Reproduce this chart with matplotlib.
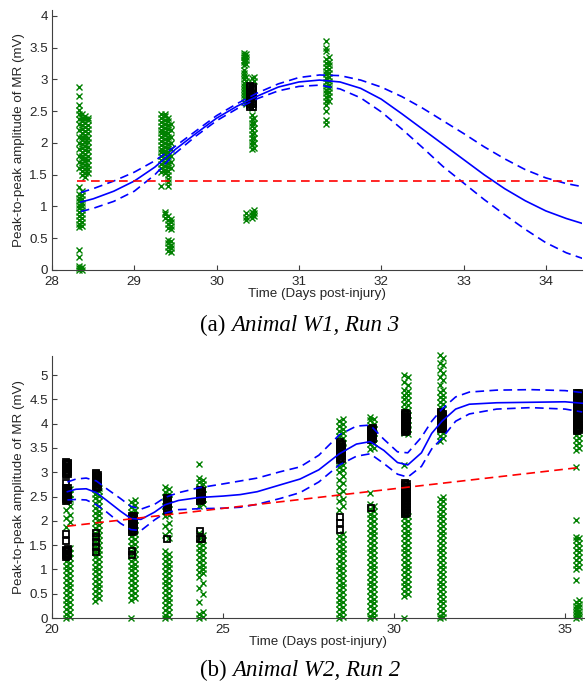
import matplotlib
matplotlib.use("Agg")
import matplotlib.pyplot as plt

plt.rcParams['font.family'] = ['Liberation Sans', 'DejaVu Sans']

# ---- panel (a): Animal W1, Run 3 ----
w1_fit_x = [28.35, 28.5, 28.75, 29.0, 29.25, 29.5, 29.75, 30.0, 30.25, 30.5, 30.75, 31.0, 31.25,
            31.5, 31.75, 32.0, 32.25, 32.5, 32.75, 33.0, 33.25, 33.5, 33.75, 34.0, 34.25, 34.45]
w1_fit = [1.07, 1.12, 1.24, 1.40, 1.62, 1.90, 2.15, 2.39, 2.58, 2.74, 2.88, 2.96, 2.99,
          2.96, 2.86, 2.69, 2.46, 2.22, 1.98, 1.74, 1.50, 1.28, 1.09, 0.93, 0.81, 0.73]
w1_upper = [1.22, 1.28, 1.40, 1.54, 1.72, 1.95, 2.19, 2.43, 2.62, 2.79, 2.93, 3.03, 3.07,
            3.06, 2.99, 2.88, 2.73, 2.55, 2.35, 2.15, 1.94, 1.75, 1.58, 1.45, 1.36, 1.31]
w1_lower = [0.92, 0.97, 1.08, 1.24, 1.50, 1.84, 2.11, 2.35, 2.54, 2.70, 2.82, 2.89, 2.91,
            2.85, 2.71, 2.49, 2.22, 1.93, 1.63, 1.37, 1.11, 0.87, 0.64, 0.43, 0.27, 0.18]
w1_thresh_x = [28.3, 34.33]
w1_thresh = [1.4, 1.4]

w1_green = [
    (28.33, [0.0, 0.03, 0.06, 0.2, 0.31, 0.68, 0.73, 0.79, 0.85, 0.91, 0.97, 1.03, 1.09, 1.14, 1.2, 1.31,
             1.6, 1.7, 1.8, 1.9, 2.0, 2.1, 2.2, 2.3, 2.38, 2.45, 2.52, 2.6, 2.74, 2.88]),
    (28.36, [0.0, 0.04, 0.7, 0.76, 0.82, 0.88, 0.94, 1.0, 1.06, 1.12, 1.18, 1.24, 1.5, 1.56, 1.62, 1.68,
             1.74, 1.8, 1.86, 1.92, 1.98, 2.04, 2.1, 2.16, 2.22, 2.28, 2.34, 2.4, 2.46]),
    (28.40, [1.47, 1.53, 1.59, 1.65, 1.71, 1.77, 1.83, 1.89, 1.95, 2.01, 2.07, 2.13, 2.19, 2.25, 2.31,
             2.37, 2.42]),
    (28.44, [1.52, 1.59, 1.66, 1.73, 1.8, 1.87, 1.94, 2.01, 2.08, 2.15, 2.22, 2.29, 2.36, 2.4]),
    (29.33, [1.32, 1.55, 1.61, 1.67, 1.73, 1.79, 1.85, 1.91, 1.97, 2.03, 2.09, 2.15, 2.21, 2.27, 2.33,
             2.39, 2.45]),
    (29.37, [0.82, 0.88, 0.92, 1.52, 1.58, 1.64, 1.7, 1.76, 1.82, 1.88, 1.94, 2.0, 2.06, 2.12, 2.18, 2.24,
             2.3, 2.36, 2.42, 2.46]),
    (29.41, [0.3, 0.36, 0.42, 0.47, 0.66, 0.72, 0.78, 0.85, 1.32, 1.38, 1.44, 1.5, 1.56, 1.62, 1.68, 1.74,
             1.8, 1.86, 1.92, 1.98, 2.04, 2.1, 2.16, 2.22, 2.28, 2.34, 2.4]),
    (29.45, [0.28, 0.34, 0.4, 0.45, 0.65, 0.7, 0.75, 0.8, 1.6, 1.7, 1.8, 1.9, 2.0, 2.1, 2.2, 2.3]),
    (30.33, [2.65, 2.7, 2.75, 2.8, 2.85, 2.9, 2.95, 3.0, 3.05, 3.1, 3.15, 3.23, 3.27, 3.31, 3.35, 3.39,
             3.42]),
    (30.36, [0.78, 0.84, 0.9, 2.62, 2.68, 2.74, 2.8, 2.86, 2.92, 2.98, 3.04, 3.24, 3.3, 3.36, 3.4]),
    (30.43, [0.82, 0.87, 0.92, 1.9, 1.96, 2.02, 2.08, 2.14, 2.2, 2.26, 2.32, 2.38, 2.44, 2.55, 2.62, 2.7,
             2.78, 2.86, 2.94, 3.02]),
    (30.46, [0.85, 0.9, 0.95, 1.92, 2.0, 2.08, 2.16, 2.24, 2.32, 2.4, 2.98, 3.04]),
    (31.33, [2.3, 2.36, 2.5, 2.6, 2.66, 2.72, 2.78, 2.84, 2.9, 2.96, 3.02, 3.08, 3.14, 3.2, 3.26, 3.32,
             3.45, 3.5, 3.6]),
    (31.36, [2.66, 2.74, 2.8, 2.86, 2.92, 2.98, 3.04, 3.1, 3.16, 3.22, 3.28, 3.36]),
]
w1_black = [
    (30.40, [2.56, 2.59, 2.62, 2.65, 2.68, 2.71, 2.74, 2.77, 2.8, 2.83, 2.86, 2.89]),
    (30.44, [2.57, 2.61, 2.65, 2.69, 2.73, 2.77, 2.81, 2.85, 2.88]),
]

# ---- panel (b): Animal W2, Run 2 ----
w2_fit_x = [20.45, 20.7, 21.0, 21.3, 21.6, 22.0, 22.3, 22.6, 23.0, 23.3, 23.7, 24.3, 25.0, 25.5, 26.0,
            26.67, 27.25, 27.8, 28.4, 28.9, 29.3, 29.7, 30.1, 30.4, 30.8, 31.1, 31.4, 31.8, 32.2, 33.0,
            34.0, 35.0, 35.5]
w2_fit = [2.60, 2.65, 2.66, 2.58, 2.42, 2.20, 2.05, 2.03, 2.18, 2.33, 2.42, 2.48, 2.51, 2.54, 2.60,
          2.74, 2.86, 3.05, 3.38, 3.58, 3.63, 3.45, 3.20, 3.15, 3.40, 3.80, 4.05, 4.30, 4.40, 4.43,
          4.44, 4.45, 4.42]
w2_upper = [2.80, 2.86, 2.88, 2.82, 2.66, 2.46, 2.30, 2.24, 2.34, 2.48, 2.58, 2.68, 2.76, 2.82, 2.88,
            3.01, 3.11, 3.35, 3.77, 3.95, 3.97, 3.68, 3.42, 3.40, 3.72, 4.05, 4.30, 4.55, 4.65, 4.69,
            4.70, 4.68, 4.64]
w2_lower = [2.43, 2.44, 2.43, 2.33, 2.18, 1.95, 1.82, 1.80, 2.02, 2.16, 2.23, 2.25, 2.26, 2.28, 2.34,
            2.46, 2.58, 2.80, 3.15, 3.33, 3.38, 3.18, 2.96, 2.90, 3.12, 3.48, 3.70, 4.05, 4.20, 4.30,
            4.33, 4.30, 4.24]
w2_thresh_x = [20.45, 35.45]
w2_thresh = [1.89, 3.10]

w2_green = [
    (20.41, [0.0, 0.08, 0.18, 0.28, 0.38, 0.48, 0.58, 0.68, 0.78, 0.88, 0.98, 1.08, 1.18, 1.28, 1.38,
             1.88, 2.05, 2.22, 2.4, 2.5, 2.6, 2.7]),
    (20.53, [0.03, 0.13, 0.23, 0.33, 0.43, 0.53, 0.63, 0.73, 0.83, 0.93, 1.03, 1.13, 1.23, 1.33, 1.45,
             1.97, 2.13, 2.3, 2.45, 2.55, 2.65]),
    (21.27, [0.36, 0.46, 0.56, 0.66, 0.76, 0.86, 0.96, 1.06, 1.16, 1.26, 1.36, 1.46, 1.56, 1.66, 1.76,
             1.86, 1.96, 2.06, 2.16, 2.26, 2.36, 2.46, 2.56, 2.66]),
    (21.37, [0.41, 0.51, 0.61, 0.71, 0.81, 0.91, 1.01, 1.11, 1.21, 1.31, 1.41, 1.51, 1.61, 1.71, 1.81,
             1.91, 2.01, 2.11, 2.21, 2.31, 2.41, 2.51, 2.61, 2.68]),
    (22.31, [0.0, 0.38, 0.48, 0.58, 0.68, 0.78, 0.88, 0.98, 1.08, 1.18, 1.28, 1.38, 1.48, 1.58, 1.68,
             1.78, 1.88, 1.98, 2.08, 2.18, 2.28, 2.38]),
    (22.42, [0.42, 0.52, 0.62, 0.72, 0.82, 0.92, 1.02, 1.12, 1.22, 1.32, 1.42, 1.52, 1.62, 1.72, 1.82,
             1.92, 2.02, 2.12, 2.22, 2.32, 2.42]),
    (23.31, [0.0, 0.07, 0.17, 0.27, 0.37, 0.47, 0.57, 0.67, 0.77, 0.87, 0.97, 1.07, 1.17, 1.27, 1.37,
             1.7, 1.9, 2.1, 2.2, 2.3, 2.4, 2.5, 2.6, 2.7]),
    (23.42, [0.02, 0.12, 0.22, 0.32, 0.42, 0.52, 0.62, 0.72, 0.82, 0.92, 1.02, 1.12, 1.22, 1.32, 1.65,
             1.8, 1.95, 2.12, 2.25, 2.35, 2.45, 2.55, 2.65]),
    (24.30, [0.0, 0.08, 0.32, 0.62, 0.85, 0.95, 1.05, 1.15, 1.25, 1.35, 1.45, 1.55, 1.65, 1.75, 2.3, 2.4,
             2.5, 2.6, 2.7, 2.8, 2.88, 3.18]),
    (24.41, [0.03, 0.12, 0.5, 0.72, 0.92, 1.0, 1.1, 1.2, 1.3, 1.4, 1.5, 1.6, 1.7, 2.35, 2.45, 2.55, 2.65,
             2.75, 2.85]),
    (28.38, [0.0, 0.08, 0.18, 0.28, 0.38, 0.48, 0.58, 0.68, 0.78, 0.88, 0.98, 1.08, 1.18, 1.28, 1.38,
             1.48, 1.58, 1.68, 2.22, 2.4, 2.55, 2.7, 2.85, 3.0, 3.1, 3.19, 3.55, 3.65, 3.75, 3.85, 3.95,
             4.05]),
    (28.50, [0.03, 0.13, 0.23, 0.33, 0.43, 0.53, 0.63, 0.73, 0.83, 0.93, 1.03, 1.13, 1.23, 1.33, 1.43,
             1.53, 1.63, 1.73, 2.3, 2.45, 2.62, 2.78, 2.92, 3.05, 3.15, 3.52, 3.6, 3.7, 3.8, 3.9, 4.0,
             4.09]),
    (29.30, [0.0, 0.05, 0.15, 0.25, 0.35, 0.45, 0.55, 0.65, 0.75, 0.85, 0.95, 1.05, 1.15, 1.25, 1.35,
             1.45, 1.55, 1.65, 1.75, 1.85, 1.95, 2.05, 2.15, 2.25, 2.35, 2.57, 3.48, 3.58, 3.68, 3.78,
             3.88, 3.98, 4.08, 4.14]),
    (29.40, [0.02, 0.1, 0.2, 0.3, 0.4, 0.5, 0.6, 0.7, 0.8, 0.9, 1.0, 1.1, 1.2, 1.3, 1.4, 1.5, 1.6, 1.7,
             1.8, 1.9, 2.0, 2.1, 2.2, 2.3, 3.5, 3.6, 3.7, 3.8, 3.9, 4.0, 4.1]),
    (30.30, [0.0, 0.45, 0.55, 0.65, 0.75, 0.85, 0.95, 1.05, 1.15, 1.25, 1.35, 1.45, 1.55, 1.65, 1.75,
             1.85, 1.95, 2.05, 2.15, 3.15, 3.8, 3.9, 4.0, 4.1, 4.2, 4.3, 4.4, 4.5, 4.6, 4.7, 4.85, 5.0]),
    (30.40, [0.5, 0.6, 0.7, 0.8, 0.9, 1.0, 1.1, 1.2, 1.3, 1.4, 1.5, 1.6, 1.7, 1.8, 1.9, 2.0, 2.1, 3.78,
             3.88, 3.98, 4.08, 4.18, 4.28, 4.38, 4.48, 4.58, 4.68, 4.8, 4.95]),
    (31.34, [0.0, 0.05, 0.15, 0.25, 0.35, 0.45, 0.55, 0.65, 0.75, 0.85, 0.95, 1.05, 1.15, 1.25, 1.35,
             1.45, 1.55, 1.65, 1.75, 1.85, 1.95, 2.05, 2.15, 2.25, 2.35, 2.45, 3.65, 3.75, 3.85, 3.95,
             4.05, 4.15, 4.25, 4.35, 4.45, 4.55, 4.65, 4.8, 4.95, 5.1, 5.25, 5.41]),
    (31.44, [0.02, 0.1, 0.2, 0.3, 0.4, 0.5, 0.6, 0.7, 0.8, 0.9, 1.0, 1.1, 1.2, 1.3, 1.4, 1.5, 1.6, 1.7,
             1.8, 1.9, 2.0, 2.1, 2.2, 2.3, 2.4, 2.5, 3.7, 3.8, 3.9, 4.0, 4.1, 4.2, 4.3, 4.4, 4.5, 4.6,
             4.7, 4.9, 5.05, 5.2, 5.35]),
    (35.32, [0.0, 0.06, 0.12, 0.18, 0.25, 0.32, 0.78, 1.0, 1.1, 1.2, 1.3, 1.4, 1.5, 1.6, 1.67, 2.02,
             3.11, 3.46, 3.56, 3.66, 3.76, 3.86, 3.96, 4.06, 4.16, 4.26, 4.36, 4.46, 4.56, 4.66]),
    (35.42, [0.03, 0.09, 0.15, 0.22, 0.29, 0.37, 1.05, 1.15, 1.25, 1.35, 1.45, 1.55, 1.65, 3.5, 3.6,
             3.7, 3.8, 3.9, 4.0, 4.1, 4.2, 4.3, 4.4, 4.5, 4.6]),
]
w2_black = [
    (20.41, [1.25, 1.29, 1.33, 1.37, 1.41, 1.58, 1.73, 2.4, 2.44, 2.48, 2.52, 2.56, 2.6, 2.64, 2.68,
             2.78, 2.94, 2.98, 3.02, 3.06, 3.1, 3.14, 3.18, 3.22]),
    (20.46, [1.27, 1.32, 1.37, 1.42, 2.42, 2.47, 2.52, 2.57, 2.62, 2.67, 2.96, 3.01, 3.06, 3.11, 3.16,
             3.2]),
    (21.29, [1.36, 1.46, 1.56, 1.66, 1.76, 2.68, 2.72, 2.76, 2.8, 2.84, 2.88, 2.92, 2.96, 2.99]),
    (21.35, [2.7, 2.75, 2.8, 2.85, 2.9, 2.95]),
    (22.35, [1.3, 1.38, 1.78, 1.82, 1.86, 1.9, 1.94, 1.98, 2.02, 2.06, 2.1]),
    (22.40, [1.8, 1.85, 1.9, 1.95, 2.0, 2.05, 2.1]),
    (23.35, [1.63, 2.2, 2.24, 2.28, 2.32, 2.36, 2.4, 2.44, 2.48]),
    (23.40, [2.22, 2.27, 2.32, 2.37, 2.42, 2.47]),
    (24.33, [1.63, 1.8, 2.4, 2.44, 2.48, 2.52, 2.56, 2.6, 2.63]),
    (24.38, [1.63, 2.42, 2.47, 2.52, 2.57, 2.62]),
    (28.42, [1.81, 1.95, 2.08, 3.26, 3.3, 3.34, 3.38, 3.42, 3.46, 3.5, 3.54, 3.58, 3.62]),
    (28.47, [3.28, 3.34, 3.4, 3.46, 3.52, 3.58]),
    (29.34, [2.26, 3.66, 3.7, 3.74, 3.78, 3.82, 3.86, 3.9]),
    (29.38, [3.68, 3.74, 3.8, 3.86, 3.92]),
    (30.33, [2.14, 2.18, 2.22, 2.26, 2.3, 2.34, 2.38, 2.42, 2.46, 2.5, 2.54, 2.58, 2.62, 2.66, 2.7,
             2.74, 2.78, 3.82, 3.86, 3.9, 3.94, 3.98, 4.02, 4.06, 4.1, 4.14, 4.18, 4.22]),
    (30.38, [2.16, 2.22, 2.28, 2.34, 2.4, 2.46, 2.52, 2.58, 2.64, 2.7, 2.76, 3.84, 3.9, 3.96, 4.02, 4.08,
             4.14, 4.2]),
    (31.37, [3.88, 3.92, 3.96, 4.0, 4.04, 4.08, 4.12, 4.16, 4.2, 4.24]),
    (31.42, [3.9, 3.95, 4.0, 4.05, 4.1, 4.15, 4.2]),
    (35.36, [3.84, 3.88, 3.92, 3.96, 4.0, 4.04, 4.08, 4.12, 4.16, 4.2, 4.24, 4.28, 4.32, 4.36, 4.4, 4.44,
             4.48, 4.52, 4.56, 4.6, 4.64]),
    (35.41, [3.86, 3.92, 3.98, 4.04, 4.1, 4.16, 4.22, 4.28, 4.34, 4.4, 4.46, 4.52, 4.58, 4.64]),
]

captions = [('(a) ', 'Animal W1, Run 3'), ('(b) ', 'Animal W2, Run 2')]

GREEN = (0, 0.5, 0)
AXC = '0.25'


def draw_panel(ax, green, black, fx, fit, upper, lower, tx, thresh):
    for x, ys in green:
        ax.plot([x] * len(ys), ys, 'x', color=GREEN, ms=4.0, mew=1.0, clip_on=False)
    for x, ys in black:
        ax.plot([x] * len(ys), ys, 's', mfc='none', mec='k', ms=4.2, mew=1.3, clip_on=False)
    ax.plot(fx, fit, '-', color='b', lw=1.2)
    ax.plot(fx, upper, '--', color='b', lw=1.2, dashes=(5.2, 3.2))
    ax.plot(fx, lower, '--', color='b', lw=1.2, dashes=(5.2, 3.2))
    ax.plot(tx, thresh, '--', color='r', lw=1.2, dashes=(5.2, 3.2))

    for s in ['top', 'right']:
        ax.spines[s].set_visible(False)
    for s in ['left', 'bottom']:
        ax.spines[s].set_color(AXC)
        ax.spines[s].set_linewidth(0.8)
    ax.tick_params(direction='in', length=3.5, width=0.8, color=AXC,
                   labelcolor='0.15', labelsize=9.6)
    ax.tick_params(axis='x', pad=4)
    ax.tick_params(axis='y', pad=3)
    ax.set_xlabel('Time (Days post-injury)', fontsize=9.6, color='0.15', labelpad=0)
    ax.set_ylabel('Peak-to-peak amplitude of MR (mV)', fontsize=9.6, color='0.15', labelpad=3)


def caption(fig, y, plain, italic):
    r = fig.canvas.get_renderer()
    t1 = fig.text(0, y, plain, fontsize=16.5, family='Liberation Serif', va='center')
    t2 = fig.text(0, y, italic, fontsize=16.5, family='Liberation Serif', style='italic', va='center')
    w1 = t1.get_window_extent(r).width / fig.bbox.width
    w2 = t2.get_window_extent(r).width / fig.bbox.width
    x0 = 0.513 - (w1 + w2) / 2
    t1.set_x(x0)
    t2.set_x(x0 + w1)


fig = plt.figure(figsize=(5.85, 6.88), dpi=100)

ax1 = fig.add_axes([0.0889, 0.6076, 0.906, 0.3785])
draw_panel(ax1, w1_green, w1_black, w1_fit_x, w1_fit, w1_upper, w1_lower, w1_thresh_x, w1_thresh)
ax1.set_xlim(28, 34.44)
ax1.set_ylim(0, 4.1)
ax1.set_xticks([28, 29, 30, 31, 32, 33, 34])
ax1.set_yticks([0, 0.5, 1, 1.5, 2, 2.5, 3, 3.5, 4])
ax1.set_yticklabels(['0', '0.5', '1', '1.5', '2', '2.5', '3', '3.5', '4'])

ax2 = fig.add_axes([0.0889, 0.1017, 0.911, 0.3814])
draw_panel(ax2, w2_green, w2_black, w2_fit_x, w2_fit, w2_upper, w2_lower, w2_thresh_x, w2_thresh)
ax2.set_xlim(20, 35.58)
ax2.set_ylim(0, 5.4)
ax2.set_xticks([20, 25, 30, 35])
ax2.set_yticks([0, 0.5, 1, 1.5, 2, 2.5, 3, 3.5, 4, 4.5, 5])
ax2.set_yticklabels(['0', '0.5', '1', '1.5', '2', '2.5', '3', '3.5', '4', '4.5', '5'])

caption(fig, 1 - 325 / 688, *captions[0])
caption(fig, 1 - 670 / 688, *captions[1])

fig.savefig('out.png', dpi=100)
